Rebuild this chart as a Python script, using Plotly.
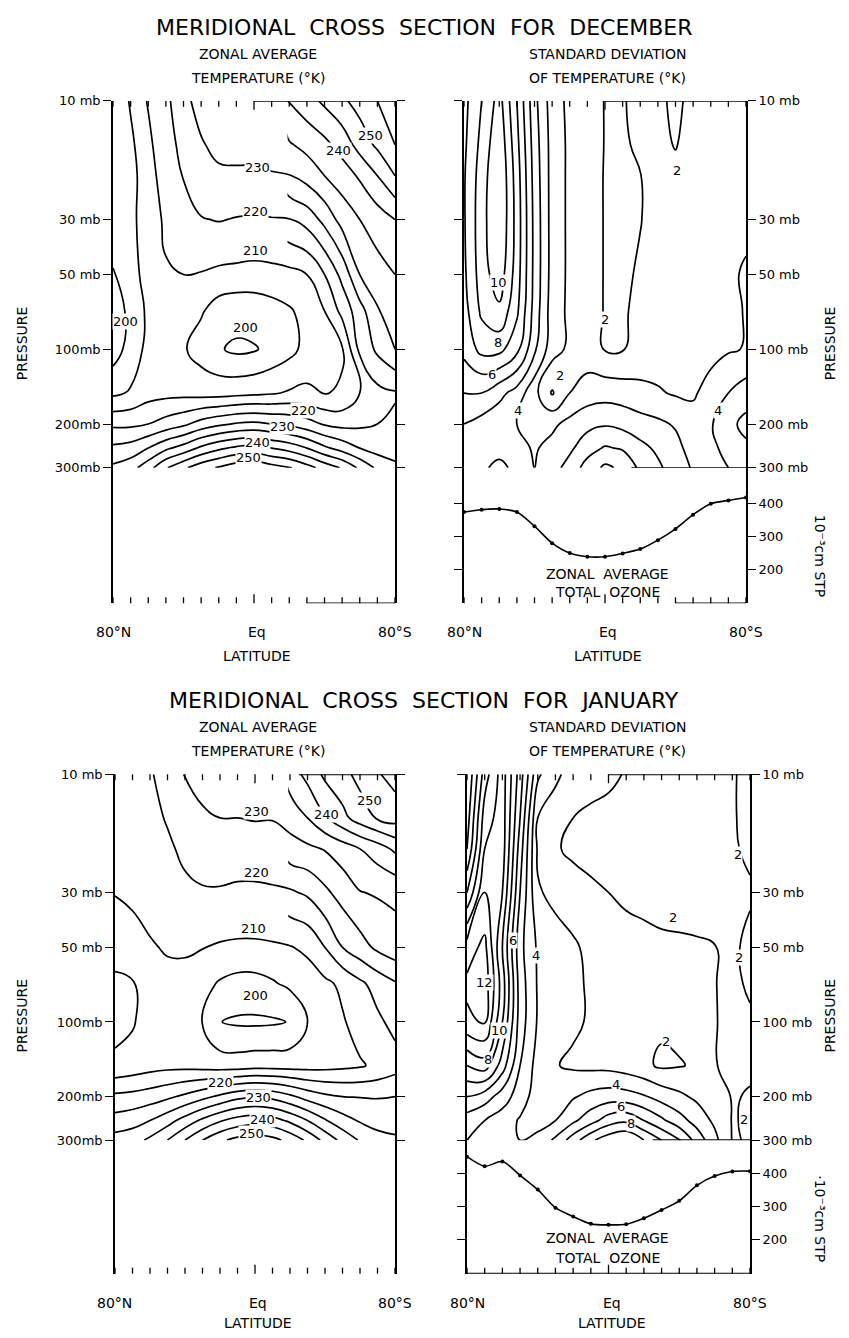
import numpy as np
import plotly.graph_objects as go

W, H = 849, 1338
FONT = "DejaVu Sans, Liberation Sans, Arial, sans-serif"
NB = "\u00a0"

LAT = [80, 70, 60, 50, 40, 30, 20, 10, 0, -10, -20, -30, -40, -50, -60, -70, -80]
PLEV = [10, 15, 20, 30, 50, 70, 100, 150, 200, 250, 300]
P_TICKS = [10, 30, 50, 100, 200, 300]
P_TEXT_L = ["10 mb", "30 mb", "50 mb", "100mb", "200mb", "300mb"]
P_TEXT_R = ["10 mb", "30 mb", "50 mb", "100 mb", "200 mb", "300 mb"]
OZ_TICKS = [200, 300, 400]
OZ_TEXT = ["200", "300", "400"]

# isotherms: every 10 K everywhere, the 205 K line everywhere, and the other
# 5 K lines only outside the northern / tropical upper stratosphere
T_MAIN = (200, 260, 10)
T_205 = (205, 205.01, 10)
T_HALF = (215, 255, 10)
HALF_SKIP_LAT = -10     # intermediate lines omitted for lat >= this ...
HALF_SKIP_P = 50        # ... and pressure <= this (mb)

# ---- December zonal average temperature (K), rows = PLEV, cols = LAT (80N .. 80S)
dec_temp = [
    [201, 205.5, 210.5, 217, 228.5, 232, 233.5, 234, 234, 236.5, 240.3, 243, 246, 249, 252, 255, 257],
    [200.3, 204, 208.5, 214.5, 224, 229.5, 231.5, 232, 232, 233, 234.5, 236.5, 238.7, 242, 247, 251, 255],
    [200.6, 203.5, 207.5, 213, 220.5, 226, 229, 229, 229, 229.5, 229.8, 232, 235, 237.5, 240.7, 245, 250],
    [201.5, 204, 207, 211, 216.5, 219.5, 220.5, 219.5, 219, 219.5, 219.8, 222, 226.5, 232, 235, 237.5, 240],
    [199.8, 203.5, 206.5, 209.5, 210, 209.5, 208, 207.5, 207, 207.5, 208.5, 210, 215, 221.5, 230, 233, 235],
    [197, 201.5, 206, 208.5, 207, 205.5, 203, 202.5, 203, 203.5, 204.5, 206.5, 210, 216.5, 223, 229.5, 233],
    [197.5, 202, 206.5, 207.5, 205.5, 203, 200.5, 199, 199.5, 201.5, 203.5, 206.5, 208, 209.5, 221, 226, 230],
    [204, 205.5, 208, 208.5, 208.5, 208, 208, 208.5, 209, 209.5, 210.5, 211, 209.8, 210.5, 215, 218.5, 219.5],
    [214, 214, 215, 217, 219, 222, 224, 225.5, 226, 225, 224, 222, 219.5, 218.5, 219, 220, 221],
    [221, 222, 225, 229, 232, 236, 239, 241, 242, 240, 238, 235, 231, 228, 225, 223, 223],
    [226, 228, 233, 239.5, 244, 248, 250.5, 253, 254, 252, 250.5, 247, 243, 239.5, 234, 229, 226],
]

# ---- December standard deviation of temperature (K)
dec_sd = [
    [7.7, 9.0, 10.4, 8.0, 5.3, 3.5, 2.75, 2.35, 1.97, 1.92, 2.3, 2.15, 1.85, 2.2, 2.4, 2.5, 2.6],
    [7.8, 9.3, 10.8, 8.3, 5.5, 3.6, 2.8, 2.4, 1.97, 1.88, 2.15, 2.2, 1.96, 2.3, 2.45, 2.55, 2.65],
    [7.9, 9.5, 11.0, 8.5, 5.6, 3.6, 2.8, 2.4, 1.95, 1.85, 1.98, 2.3, 2.2, 2.35, 2.5, 2.6, 2.7],
    [7.9, 9.6, 11.0, 8.6, 5.7, 3.6, 2.8, 2.4, 1.95, 1.8, 1.97, 2.3, 2.4, 2.45, 2.55, 2.7, 2.8],
    [7.8, 9.5, 10.6, 8.5, 5.7, 3.6, 2.8, 2.4, 1.95, 1.85, 2.1, 2.35, 2.5, 2.6, 2.7, 2.85, 3.1],
    [7.6, 9.2, 9.8, 8.2, 5.6, 3.5, 2.8, 2.4, 1.95, 1.9, 2.2, 2.4, 2.5, 2.6, 2.7, 2.8, 3.05],
    [7.3, 8.3, 8.3, 7.3, 5.2, 3.4, 2.8, 2.4, 1.95, 1.95, 2.3, 2.5, 2.55, 2.6, 2.75, 2.9, 3.05],
    [6.0, 6.0, 5.3, 4.6, 3.3, 1.9, 3.0, 3.5, 3.6, 3.5, 3.3, 3.1, 2.9, 2.9, 3.3, 4.0, 4.5],
    [5.0, 4.6, 4.3, 4.0, 3.6, 3.8, 4.3, 4.7, 4.9, 4.7, 4.4, 4.2, 3.9, 3.3, 3.9, 4.7, 5.3],
    [4.6, 4.5, 4.6, 4.3, 3.9, 4.3, 4.8, 5.6, 6.1, 5.9, 5.3, 4.8, 4.3, 3.6, 3.7, 4.4, 4.8],
    [4.3, 4.8, 5.3, 4.7, 4.0, 4.6, 5.4, 6.4, 7.2, 6.8, 5.8, 5.2, 4.5, 3.9, 3.5, 4.0, 4.3],
]

# ---- January zonal average temperature (K)
jan_temp = [
    [210.5, 215, 219, 224, 230.5, 232.5, 233, 233, 233, 235.5, 237.5, 241.5, 246, 248.5, 251.5, 254.5, 257],
    [211, 213.5, 216.5, 221, 226, 229, 230, 230, 230.5, 230.3, 232, 235, 239.5, 243.5, 247.5, 250.5, 252],
    [211.5, 212.5, 214.5, 218, 222.5, 225, 226, 226, 226, 227, 228, 229, 230.3, 232.5, 235, 237.5, 241],
    [210.2, 211, 212, 214, 217.5, 219, 219, 218, 218, 218.5, 219.3, 220.8, 224, 227, 229.8, 230.5, 231],
    [207, 208, 209.5, 210.5, 210.8, 210.2, 209, 208.5, 208.5, 209, 209.7, 211, 215, 220, 223, 226, 228],
    [204, 204.6, 207.5, 208.5, 208, 206.5, 204.5, 203.5, 203.5, 204.5, 206, 207.5, 209, 211, 214, 217, 219.5],
    [203.5, 204.5, 207.5, 208, 207, 204.8, 200.1, 199.3, 199.2, 199.4, 200.2, 205, 207, 209.5, 212, 214, 216.5],
    [206, 207, 208, 208.5, 208.5, 208, 207.5, 207.5, 208, 208, 208, 208, 208.3, 208.8, 209.5, 211, 213],
    [216, 216.5, 217.5, 219, 221, 223.5, 226, 228.5, 229.5, 228.5, 226, 223, 221, 220, 219.8, 219.7, 220],
    [222, 223, 225, 228, 232, 236, 239.5, 242, 243, 242, 239, 235, 230.5, 227, 224.5, 223, 222.5],
    [227, 228, 231, 235, 240, 245, 249, 251.5, 252.5, 251.5, 248.5, 244, 238.5, 233.5, 229.5, 227, 226],
]

# ---- January standard deviation of temperature (K)
jan_sd = [
    [5.0, 8.5, 10.5, 7.5, 4.2, 3.2, 2.6, 2.3, 2.15, 1.95, 1.8, 1.7, 1.7, 1.7, 1.8, 1.9, 2.3],
    [5.5, 9.5, 10.5, 7.0, 3.0, 2.5, 2.0, 1.85, 1.8, 1.7, 1.6, 1.6, 1.6, 1.6, 1.8, 1.9, 2.3],
    [6.0, 10.0, 10.5, 6.5, 2.85, 2.1, 1.8, 1.65, 1.6, 1.6, 1.5, 1.5, 1.5, 1.5, 1.7, 1.9, 2.15],
    [8.0, 11.0, 10.0, 6.0, 3.1, 2.75, 2.45, 2.2, 2.0, 1.8, 1.7, 1.6, 1.6, 1.6, 1.7, 1.85, 1.9],
    [11.5, 12.3, 9.0, 5.3, 3.85, 3.4, 3.15, 2.75, 2.55, 2.4, 2.3, 2.2, 2.15, 2.1, 2.02, 1.85, 2.2],
    [12.2, 12.6, 9.5, 5.5, 3.9, 3.4, 3.15, 2.9, 2.7, 2.5, 2.4, 2.3, 2.2, 2.1, 2.02, 1.85, 2.1],
    [11.8, 12.1, 9.0, 5.5, 3.9, 3.4, 3.15, 2.9, 2.7, 2.5, 2.4, 2.15, 2.2, 2.1, 2.03, 1.85, 1.9],
    [9.0, 9.5, 7.5, 5.0, 3.6, 3.05, 2.85, 2.75, 2.7, 2.5, 2.2, 1.85, 1.95, 2.1, 2.03, 1.85, 1.9],
    [7.0, 6.5, 5.5, 4.5, 3.5, 3.2, 3.9, 4.3, 4.5, 4.4, 4.1, 3.6, 3.2, 2.8, 2.4, 1.95, 2.05],
    [5.5, 5.0, 4.5, 3.9, 3.6, 4.0, 4.8, 5.6, 6.5, 6.8, 6.0, 5.2, 4.4, 3.6, 2.8, 1.95, 2.1],
    [5.0, 4.6, 4.3, 4.0, 4.3, 5.2, 6.5, 7.8, 8.6, 9.0, 8.0, 7.0, 6.1, 4.6, 3.3, 1.95, 2.05],
]

# ---- zonal average total ozone (10^-3 cm STP)
dec_ozone = [374, 381, 383, 374, 331, 280, 250, 239, 239, 249, 262, 289, 323, 366, 399, 409, 418]
jan_ozone = [452, 423, 437, 395, 352, 297, 270, 248, 245, 247, 265, 290, 318, 365, 393, 407, 408]

# ---- contour labels: (text, lat, pressure)
dec_temp_labels = [("250", -66, 13.8), ("240", -48, 15.8), ("230", -2, 18.5), ("220", -1, 27.9),
                   ("210", -1, 40.2), ("200", 5, 82), ("200", 73, 77), ("220", -28, 176),
                   ("230", -16, 205), ("240", -2, 238), ("250", 3, 274)]
dec_sd_labels = [("10", 60.5, 53.6), ("8", 60.5, 94), ("6", 64.3, 126), ("4", 49.2, 176),
                 ("2", 25.5, 128), ("2", 0, 76), ("2", -40.7, 19), ("4", -64.3, 176)]
jan_temp_labels = [("250", -65.7, 12.7), ("240", -41, 14.5), ("230", -1, 14.1), ("220", -1, 24.8),
                   ("210", 1, 41.8), ("200", 0, 78), ("220", 20, 176), ("230", -2, 202),
                   ("240", -4, 247), ("250", 2, 283)]
jan_sd_labels = [("12", 70.2, 69), ("10", 61.7, 108), ("8", 68.3, 142), ("6", 54.2, 47),
                 ("4", 41, 54), ("2", -36.3, 38), ("2", -32.5, 120), ("4", -4.2, 179),
                 ("6", -7, 219), ("8", -12.7, 258), ("2", -73, 21), ("2", -74, 55), ("2", -76.8, 247)]

GROUPS = [
    dict(month="DECEMBER", temp=dec_temp, sd=dec_sd, oz=dec_ozone,
         tl=dec_temp_labels, sl=dec_sd_labels,
         lx=(113, 395), rx=(464, 746), ytop=95, y300=466, ybot=603,
         title_y=21, sub1=48, sub2=72, latl_y=632, latt_y=656, oz_rng=(98.5, 507.5),
         press_y=340, stp_y=555, ozt_y=(573, 592), stp_txt="10⁻³cm STP",
         top_l=0, bot_l=-30, bot_r=-40, line300=-15),
    dict(month="JANUARY", temp=jan_temp, sd=jan_sd, oz=jan_ozone,
         tl=jan_temp_labels, sl=jan_sd_labels,
         lx=(115, 395), rx=(467, 750), ytop=776, y300=1146, ybot=1281,
         title_y=701, sub1=728, sub2=752, latl_y=1311, latt_y=1331, oz_rng=(97, 502),
         press_y=1020, stp_y=1225, ozt_y=(1245, 1265), stp_txt="·10⁻³cm STP",
         top_l=-25, bot_l=None, bot_r=80, line300=-25),
]

fig = go.Figure()
layout = dict(width=W, height=H, margin=dict(l=0, r=0, t=0, b=0),
              paper_bgcolor="white", plot_bgcolor="white", showlegend=False,
              font=dict(family=FONT, color="black"))
annotations = []
shapes = []


def px(x):
    return x / W


def py(y):
    return 1 - y / H


def text(t, x, y, size=13, angle=0):
    annotations.append(dict(text=t, x=px(x), y=py(y), xref="paper", yref="paper",
                            showarrow=False, textangle=angle, xanchor="center", yanchor="middle",
                            font=dict(size=size, family=FONT, color="black")))


BLACK = [[0, "black"], [1, "black"]]
logp = list(np.log10(PLEV))


def xaxis_def(x0, x1, anchor):
    return dict(domain=[px(x0), px(x1)], range=[80, -80], showticklabels=False, ticks="",
                showgrid=False, zeroline=False, showline=False, anchor=anchor, fixedrange=True)


def yaxis_def(y0, y1, rng, side, tv, tt, anchor):
    return dict(domain=[py(y1), py(y0)], range=rng, side=side, tickvals=tv, ticktext=tt,
                ticks="outside", ticklen=8, tickwidth=1.4, tickcolor="black",
                showline=True, linecolor="black", linewidth=1.7, mirror="ticks",
                showgrid=False, zeroline=False, anchor=anchor,
                tickfont=dict(size=13, family=FONT, color="black"))


def lat_ticks(xr, yr_pix, direction):
    for lat in LAT:
        ln = 9 if lat == 0 else 6
        shapes.append(dict(type="line", xref=xr, yref="paper", x0=lat, x1=lat,
                           y0=py(yr_pix), y1=py(yr_pix + direction * ln),
                           line=dict(color="black", width=1.3)))


def key(a):
    return a[0] + "axis" + a[1:]


def contour(z, xa, ya, start, end, size):
    fig.add_trace(go.Contour(x=LAT, y=logp, z=z, xaxis=xa, yaxis=ya, connectgaps=False,
                             contours=dict(start=start, end=end, size=size, coloring="lines"),
                             colorscale=BLACK, showscale=False, hoverinfo="skip",
                             line=dict(width=1.7, smoothing=1.3)))


def half_field(z):
    out = []
    for p, row in zip(PLEV, z):
        out.append([None if (la >= HALF_SKIP_LAT and p <= HALF_SKIP_P) else v
                    for la, v in zip(LAT, row)])
    return out


for gi, g in enumerate(GROUPS):
    n = gi * 3
    xa_t, ya_t = ("x" + (str(n + 1) if n else "")), ("y" + (str(n + 1) if n else ""))
    xa_s, ya_s = f"x{n+2}", f"y{n+2}"
    xa_o, ya_o = f"x{n+3}", f"y{n+3}"

    bottom_log = 1 + (g["ybot"] - g["ytop"]) / ((g["y300"] - g["ytop"]) / np.log10(30))
    layout[key(xa_t)] = xaxis_def(*g["lx"], ya_t)
    layout[key(ya_t)] = yaxis_def(g["ytop"], g["ybot"], [bottom_log, 1], "left",
                                  list(np.log10(P_TICKS)), P_TEXT_L, xa_t)
    layout[key(xa_s)] = xaxis_def(*g["rx"], ya_s)
    layout[key(ya_s)] = yaxis_def(g["ytop"], g["y300"], [np.log10(300), 1], "right",
                                  list(np.log10(P_TICKS)), P_TEXT_R, xa_s)
    layout[key(xa_o)] = xaxis_def(*g["rx"], ya_o)
    layout[key(ya_o)] = yaxis_def(g["y300"], g["ybot"], list(g["oz_rng"]), "right",
                                  OZ_TICKS, OZ_TEXT, xa_o)

    contour(g["temp"], xa_t, ya_t, *T_MAIN)
    contour(g["temp"], xa_t, ya_t, *T_205)
    contour(half_field(g["temp"]), xa_t, ya_t, *T_HALF)
    contour(g["sd"], xa_s, ya_s, 1, 14, 1)
    fig.add_trace(go.Scatter(x=LAT, y=g["oz"], xaxis=xa_o, yaxis=ya_o, mode="lines+markers",
                             line=dict(color="black", width=1.6, shape="spline", smoothing=0.8),
                             marker=dict(size=4, color="black"), hoverinfo="skip"))

    for t, la, p in g["tl"]:
        annotations.append(dict(text=t, x=la, y=float(np.log10(p)), xref=xa_t, yref=ya_t,
                                showarrow=False, bgcolor="white", borderpad=0,
                                font=dict(size=13, family=FONT, color="black")))
    for t, la, p in g["sl"]:
        annotations.append(dict(text=t, x=la, y=float(np.log10(p)), xref=xa_s, yref=ya_s,
                                showarrow=False, bgcolor="white", borderpad=0,
                                font=dict(size=13, family=FONT, color="black")))

    def hline(xr, yref, lat0, yv):
        shapes.append(dict(type="line", xref=xr, yref=yref, x0=lat0, x1=-84, y0=yv, y1=yv,
                           line=dict(color="black", width=1.7)))

    hline(xa_t, ya_t, g["top_l"], 1)
    if g["bot_l"] is not None:
        hline(xa_t, ya_t, g["bot_l"], bottom_log)
    hline(xa_s, ya_s, 0, 1)
    hline(xa_s, ya_s, g["line300"], float(np.log10(300)))
    hline(xa_o, ya_o, g["bot_r"], g["oz_rng"][0])

    lat_ticks(xa_t, g["ytop"], 1)
    lat_ticks(xa_t, g["ybot"], -1)
    lat_ticks(xa_s, g["ytop"], 1)
    lat_ticks(xa_o, g["ybot"], -1)

    sp = NB * 2
    text(sp.join(["MERIDIONAL", "CROSS", "SECTION", "FOR", g["month"]]), 424, g["title_y"], size=22)
    text("ZONAL AVERAGE", 258, g["sub1"], size=14)
    text("TEMPERATURE (°K)", 258, g["sub2"], size=14)
    text("STANDARD DEVIATION", 607, g["sub1"], size=14)
    text("OF TEMPERATURE (°K)", 607, g["sub2"], size=14)
    for (x0, x1) in (g["lx"], g["rx"]):
        text("80°N", x0, g["latl_y"], size=14)
        text("Eq", (x0 + x1) / 2 + 3, g["latl_y"], size=14)
        text("80°S", x1, g["latl_y"], size=14)
        text("LATITUDE", (x0 + x1) / 2 + 3, g["latt_y"], size=14)
    text("PRESSURE", 22, g["press_y"], size=14, angle=-90)
    text("PRESSURE", 830, g["press_y"], size=14, angle=-90)
    text(g["stp_txt"], 820, g["stp_y"], size=14, angle=90)
    text("ZONAL" + sp + "AVERAGE", 607, g["ozt_y"][0], size=14)
    text("TOTAL" + sp + "OZONE", 607, g["ozt_y"][1], size=14)

layout["annotations"] = annotations
layout["shapes"] = shapes
fig.update_layout(**layout)
fig.write_html("out.html")
